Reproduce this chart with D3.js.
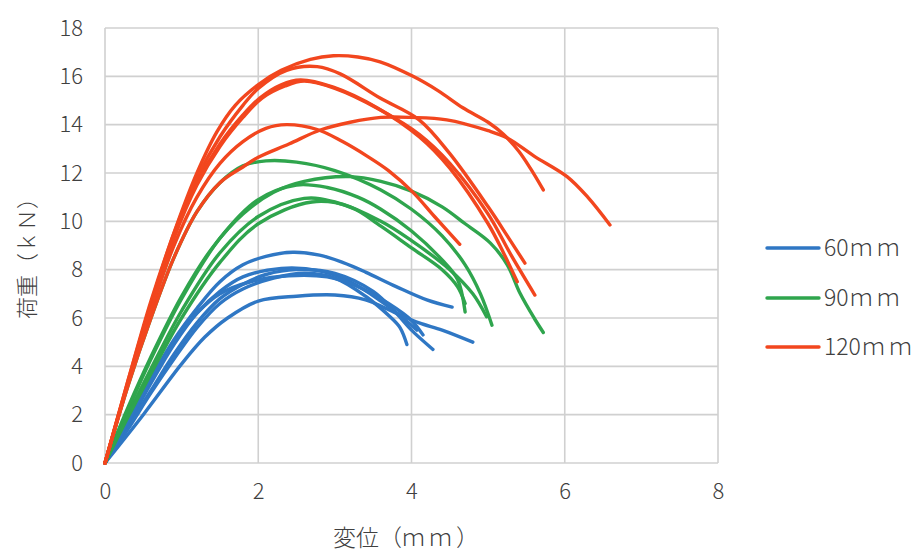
<!DOCTYPE html>
<html>
<head>
<meta charset="utf-8">
<script src="https://cdn.jsdelivr.net/npm/d3@7"></script>
<style>
  html, body { margin: 0; padding: 0; background: #fff; }
  svg text { font-family: "Noto Sans CJK JP", "Noto Sans", sans-serif; fill: #404040; }
</style>
</head>
<body>
<svg id="chart" width="921" height="552"></svg>
<script>
// Axis ticks
const xTicks = [0, 2, 4, 6, 8];
const yTicks = [0, 2, 4, 6, 8, 10, 12, 14, 16, 18];

// Legend entries: specimen length and unit
const seriesLengths = ["60", "90", "120"];
const seriesUnit = "ｍｍ";
const seriesColors = ["#2F77C4", "#2FA54D", "#F2461E"];

// Load–displacement curves, [displacement (mm), load (kN)]
const specimens60 = [
  [[0,0],[0.3,1.8],[0.6,3.5],[0.9,5.1],[1.2,6.4],[1.5,7.5],[1.8,8.2],[2.1,8.55],[2.45,8.72],[2.8,8.6],[3.1,8.3],[3.4,7.9],[3.8,7.3],[4.2,6.75],[4.53,6.45]],
  [[0,0],[0.3,1.6],[0.6,3.3],[0.9,4.9],[1.2,6.2],[1.5,7.1],[1.8,7.7],[2.3,8.05],[2.8,7.95],[3.2,7.5],[3.6,6.7],[3.85,6.1],[4.07,5.5]],
  [[0,0],[0.3,1.5],[0.6,3.0],[0.9,4.5],[1.2,5.8],[1.5,6.8],[1.8,7.4],[2.1,7.8],[2.5,8.0],[3.0,7.85],[3.5,7.1],[3.8,6.2],[4.0,5.5],[4.28,4.7]],
  [[0,0],[0.3,1.4],[0.6,2.9],[0.9,4.3],[1.2,5.6],[1.5,6.6],[1.8,7.2],[2.2,7.65],[2.6,7.85],[3.0,7.65],[3.4,6.9],[3.72,6.05],[3.85,5.6],[3.94,4.9]],
  [[0,0],[0.3,1.7],[0.6,3.4],[0.9,5.0],[1.2,6.2],[1.5,7.0],[1.9,7.5],[2.4,7.75],[2.9,7.7],[3.3,7.3],[3.7,6.6],[4.0,5.9],[4.15,5.3]],
  [[0,0],[0.5,2.0],[1.0,4.1],[1.3,5.2],[1.6,6.0],[2.0,6.7],[2.5,6.9],[3.0,6.95],[3.4,6.75],[3.8,6.2],[4.1,5.8],[4.4,5.5],[4.8,5.0]]
];
const specimens90 = [
  [[0,0],[0.3,3.2],[0.6,6.0],[0.9,8.5],[1.2,10.4],[1.5,11.6],[1.8,12.3],[2.1,12.5],[2.5,12.45],[3.0,12.1],[3.6,11.3],[4.0,10.5],[4.4,9.4],[4.7,8.2],[4.9,7.0],[5.05,5.7]],
  [[0,0],[0.3,2.3],[0.6,4.4],[1.0,6.9],[1.4,8.9],[1.8,10.3],[2.2,11.2],[2.6,11.65],[3.2,11.85],[3.6,11.65],[4.0,11.25],[4.4,10.6],[4.7,9.9],[5.03,9.1],[5.25,8.2],[5.42,7.0],[5.6,6.0],[5.72,5.4]],
  [[0,0],[0.3,2.2],[0.6,4.3],[1.0,6.8],[1.5,9.3],[2.0,10.9],[2.5,11.5],[2.9,11.4],[3.3,11.0],[3.6,10.5],[4.0,9.6],[4.4,8.4],[4.6,7.6],[4.7,6.25]],
  [[0,0],[0.3,2.0],[0.6,3.9],[1.0,6.3],[1.5,8.7],[2.0,10.2],[2.6,10.95],[3.0,10.8],[3.6,10.0],[4.0,9.2],[4.5,8.0],[4.8,7.0],[4.98,6.05]],
  [[0,0],[0.3,1.9],[0.6,3.7],[1.0,6.0],[1.5,8.3],[2.0,9.9],[2.7,10.8],[3.2,10.6],[3.6,9.8],[4.0,8.9],[4.4,8.0],[4.6,7.3],[4.7,6.6]]
];
const specimens120 = [
  [[0,0],[0.3,3.4],[0.6,6.7],[0.96,10.05],[1.2,12.0],[1.46,13.7],[1.7,14.8],[2.02,15.7],[2.3,16.25],[2.68,16.7],[2.98,16.85],[3.3,16.8],[3.59,16.6],[4.02,16.0],[4.35,15.4],[4.67,14.7],[5.0,14.1],[5.2,13.6],[5.4,12.9],[5.55,12.2],[5.72,11.3]],
  [[0,0],[0.3,3.4],[0.6,6.6],[0.9,9.5],[1.2,11.8],[1.5,13.5],[1.8,14.8],[2.0,15.5],[2.37,16.25],[2.77,16.4],[3.07,16.1],[3.59,15.1],[4.1,14.2],[4.5,12.8],[5.0,10.6],[5.25,9.4],[5.48,8.27]],
  [[0,0],[0.3,3.3],[0.6,6.5],[0.9,9.4],[1.2,11.6],[1.5,13.2],[1.8,14.4],[2.02,15.1],[2.3,15.65],[2.55,15.85],[2.98,15.55],[3.55,14.7],[4.1,13.5],[4.5,12.2],[5.0,9.9],[5.2,8.7],[5.38,7.5]],
  [[0,0],[0.3,3.3],[0.6,6.4],[0.9,9.3],[1.2,11.5],[1.5,13.1],[1.8,14.3],[2.05,15.1],[2.35,15.6],[2.6,15.8],[3.0,15.5],[3.6,14.6],[4.1,13.6],[4.5,12.4],[5.0,10.3],[5.3,8.6],[5.61,6.95]],
  [[0,0],[0.3,3.3],[0.6,6.3],[0.9,9.0],[1.2,11.0],[1.5,12.4],[1.8,13.3],[2.1,13.85],[2.37,14.0],[2.77,13.8],[3.1,13.3],[3.42,12.7],[3.7,12.1],[4.02,11.2],[4.3,10.2],[4.63,9.05]],
  [[0,0],[0.3,3.2],[0.6,6.0],[0.9,8.5],[1.2,10.4],[1.5,11.6],[1.8,12.25],[2.0,12.65],[2.4,13.2],[2.81,13.78],[3.2,14.1],[3.6,14.3],[4.0,14.3],[4.46,14.2],[5.0,13.75],[5.25,13.45],[5.6,12.7],[6.03,11.85],[6.3,11.0],[6.59,9.85]]
];

const groups = [specimens60, specimens90, specimens120];

const svg = d3.select("#chart");
const plot = { left: 105, right: 718, top: 28, bottom: 463 };

const x = d3.scaleLinear().domain([0, 8]).range([plot.left, plot.right]);
const y = d3.scaleLinear().domain([0, 18]).range([plot.bottom, plot.top]);

// Gridlines
const grid = svg.append("g").attr("stroke", "#d0d0d0").attr("stroke-width", 1.6);
grid.selectAll("line.h").data(yTicks).join("line")
  .attr("x1", plot.left).attr("x2", plot.right)
  .attr("y1", d => y(d)).attr("y2", d => y(d));
grid.selectAll("line.v").data(xTicks).join("line")
  .attr("y1", plot.top).attr("y2", plot.bottom)
  .attr("x1", d => x(d)).attr("x2", d => x(d));

// Y axis tick labels
const yAxis = svg.append("g").attr("transform", `translate(${plot.left},0)`)
  .call(d3.axisLeft(y).tickValues(yTicks).tickSize(0).tickPadding(22));
yAxis.select(".domain").remove();
yAxis.selectAll("text").attr("font-size", 22).attr("font-weight", 300)
  .style("font-family", "'Noto Sans CJK JP', sans-serif").attr("fill", "#404040");

// X axis tick labels
const xAxis = svg.append("g").attr("transform", `translate(0,${plot.bottom})`)
  .call(d3.axisBottom(x).tickValues(xTicks).tickSize(0).tickPadding(20));
xAxis.select(".domain").remove();
xAxis.selectAll("text").attr("font-size", 22).attr("font-weight", 300)
  .style("font-family", "'Noto Sans CJK JP', sans-serif").attr("fill", "#404040");

// Curves
const line = d3.line().x(d => x(d[0])).y(d => y(d[1])).curve(d3.curveCatmullRom.alpha(0.5));
groups.forEach((g, i) => {
  svg.append("g")
    .selectAll("path").data(g).join("path")
    .attr("d", line)
    .attr("fill", "none")
    .attr("stroke", seriesColors[i])
    .attr("stroke-width", 3.4)
    .attr("stroke-linejoin", "round")
    .attr("stroke-linecap", "round");
});

// Axis titles
svg.append("text")
  .attr("transform", `translate(35,253) rotate(-90)`)
  .attr("text-anchor", "middle")
  .attr("font-size", 22).attr("font-weight", 300)
  .text("荷重（ｋＮ）");

const xTitle = svg.append("text")
  .attr("x", 333).attr("y", 546)
  .attr("font-size", 23).attr("font-weight", 300);
xTitle.append("tspan").text("変位（");
xTitle.append("tspan").attr("letter-spacing", 4).text("ｍｍ");
xTitle.append("tspan").text("）");

// Legend
const legend = svg.append("g");
const legendY = [248, 298, 347];
seriesLengths.forEach((len, i) => {
  legend.append("line")
    .attr("x1", 767).attr("x2", 819)
    .attr("y1", legendY[i]).attr("y2", legendY[i])
    .attr("stroke", seriesColors[i]).attr("stroke-width", 3.4)
    .attr("stroke-linecap", "round");
  const t = legend.append("text")
    .attr("x", 824).attr("y", legendY[i])
    .attr("dy", "0.36em")
    .attr("font-size", 23).attr("font-weight", 300);
  t.append("tspan").text(len);
  t.append("tspan").attr("dx", 1).attr("letter-spacing", 4).text(seriesUnit);
});
</script>
</body>
</html>
